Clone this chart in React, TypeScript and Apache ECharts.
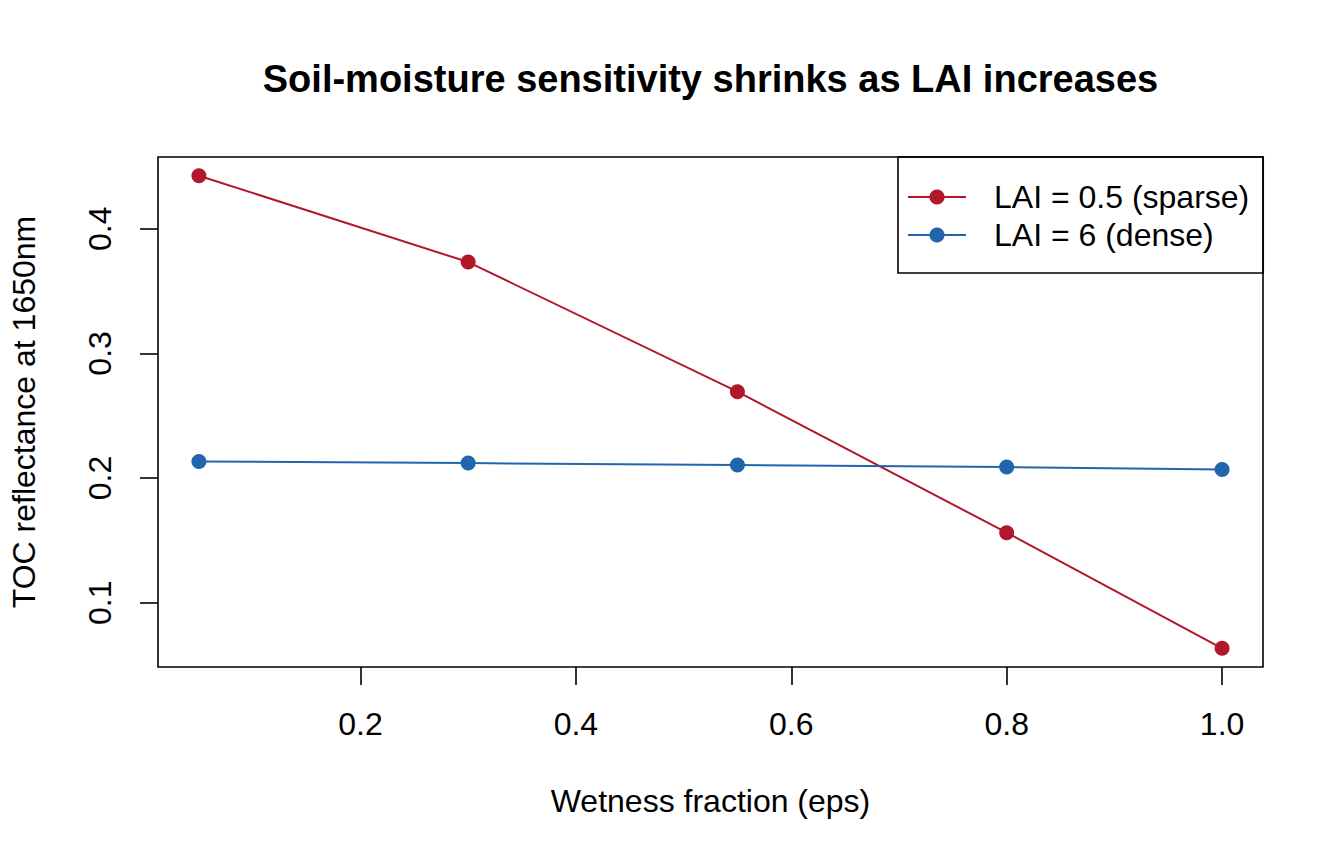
import React, { useEffect, useRef } from "react";
import * as echarts from "echarts";

const wetness = [0.05, 0.3, 0.55, 0.8, 1.0];
const sparseLAI = [0.4426, 0.3733, 0.2693, 0.1562, 0.0634];
const denseLAI = [0.2133, 0.212, 0.2104, 0.2088, 0.2069];
const xTicks = [0.2, 0.4, 0.6, 0.8, 1.0];
const yTicks = [0.1, 0.2, 0.3, 0.4];
const seriesNames = ["LAI = 0.5 (sparse)", "LAI = 6 (dense)"];

const FONT = "'Liberation Sans', Arial, Helvetica, sans-serif";

export default function App() {
  const ref = useRef<HTMLDivElement>(null);
  useEffect(() => {
    document.body.style.margin = "0";
    const chart = echarts.init(ref.current!, null, { renderer: "svg" });
    const pair = (ys: number[]) => wetness.map((x, i) => [x, ys[i]]);
    chart.setOption({
      animation: false,
      backgroundColor: "#ffffff",
      textStyle: { fontFamily: FONT },
      graphic: [
        {
          type: "text",
          x: 710.5,
          y: 78.5,
          style: {
            text: "Soil-moisture sensitivity shrinks as LAI increases",
            font: `bold 38px ${FONT}`,
            fill: "#000",
            align: "center",
            verticalAlign: "middle",
            textAlign: "center",
            textVerticalAlign: "middle",
          },
        },
      ],
      grid: {
        left: 158,
        right: 81,
        top: 157,
        bottom: 197,
        show: true,
        borderColor: "#000",
        borderWidth: 1.6,
        backgroundColor: "transparent",
      },
      legend: {
        orient: "vertical",
        left: 898,
        top: 157,
        padding: [21, 14, 19, 9],
        borderColor: "#000",
        borderWidth: 1.6,
        itemWidth: 58,
        itemHeight: 19,
        itemGap: 0,
        data: seriesNames,
        textStyle: {
          fontFamily: FONT,
          fontSize: 32,
          color: "#000",
          lineHeight: 38,
          padding: [0, 0, 0, 23],
        },
      },
      xAxis: {
        type: "value",
        min: 0.012,
        max: 1.038,
        name: "Wetness fraction (eps)",
        nameLocation: "middle",
        nameGap: 118,
        nameTextStyle: { fontFamily: FONT, fontSize: 32, color: "#000" },
        axisLine: { show: false },
        axisTick: {
          show: true,
          length: 18,
          inside: false,
          customValues: xTicks,
          lineStyle: { color: "#000", width: 1.6 },
        },
        axisLabel: {
          customValues: xTicks,
          margin: 41,
          fontFamily: FONT,
          fontSize: 32,
          color: "#000",
          formatter: (v: number) => v.toFixed(1),
        },
        splitLine: { show: false },
      },
      yAxis: {
        type: "value",
        min: 0.0484,
        max: 0.4576,
        name: "TOC reflectance at 1650nm",
        nameLocation: "middle",
        nameRotate: 90,
        nameGap: 118,
        nameTextStyle: { fontFamily: FONT, fontSize: 32, color: "#000" },
        axisLine: { show: false },
        axisTick: {
          show: true,
          length: 18,
          inside: false,
          customValues: yTicks,
          lineStyle: { color: "#000", width: 1.6 },
        },
        axisLabel: {
          customValues: yTicks,
          rotate: 90,
          margin: 42,
          fontFamily: FONT,
          fontSize: 32,
          color: "#000",
          formatter: (v: number) => v.toFixed(1),
        },
        splitLine: { show: false },
      },
      series: [
        {
          name: seriesNames[0],
          type: "line",
          data: pair(sparseLAI),
          symbol: "circle",
          symbolSize: 15,
          color: "#B2182B",
          lineStyle: { color: "#B2182B", width: 2 },
          itemStyle: { color: "#B2182B" },
        },
        {
          name: seriesNames[1],
          type: "line",
          data: pair(denseLAI),
          symbol: "circle",
          symbolSize: 15,
          color: "#2166AC",
          lineStyle: { color: "#2166AC", width: 2 },
          itemStyle: { color: "#2166AC" },
        },
      ],
    });
    return () => chart.dispose();
  }, []);
  return <div ref={ref} style={{ width: 1344, height: 864 }} />;
}
